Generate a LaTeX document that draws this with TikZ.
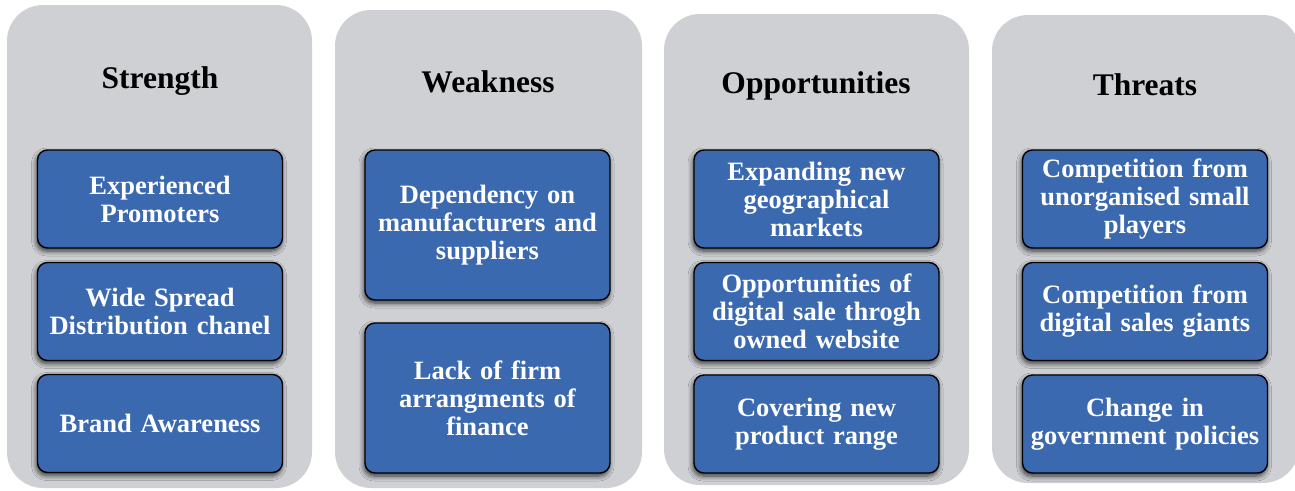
\documentclass[tikz,border=0pt]{standalone}
\usepackage{fontspec}
\setmainfont{Liberation Serif}
\usetikzlibrary{shadows.blur}
\definecolor{panelgray}{HTML}{CFD0D4}
\definecolor{boxblue}{HTML}{3B69B0}
\tikzset{
  panel/.style={fill=panelgray, draw=none, rounded corners=36pt},
  ptitle/.style={anchor=base, font=\fontsize{31.5}{34}\selectfont\bfseries, text=black, inner sep=0pt},
  item/.style={draw=black, line width=1.4pt, fill=boxblue, rounded corners=10pt,
    minimum width=245pt, text width=237pt, align=center, inner sep=0pt,
    font=\fontsize{26.5}{28}\selectfont\bfseries, text=white,
    blur shadow={shadow xshift=-1pt, shadow yshift=-3pt, shadow blur radius=5pt, shadow opacity=75, shadow blur steps=6}},
  tall/.style={minimum height=98pt},
  taller/.style={minimum height=150pt}
}
\begin{document}
\begin{tikzpicture}[x=1pt,y=-1pt]
\useasboundingbox (0,0) rectangle (1295,490);
\begin{scope}
\clip (0,0) rectangle (1295,490);
% panels
\path[panel] (7,5) rectangle (312,488);
\path[panel] (335,10) rectangle (642,488);
\path[panel] (664,14) rectangle (969,485);
\path[panel] (992,15) rectangle (1299,483);
\end{scope}
% titles
\node[ptitle] (tS) at (160,88) {Strength};
\node[ptitle] (tW) at (488,92) {Weakness};
\node[ptitle] (tO) at (816,93) {Opportunities};
\node[ptitle] (tT) at (1145,95) {Threats};
% Strength
\node[item,tall] (s1) at (160,199) {Experienced\\Promoters};
\node[item,tall] (s2) at (160,311.5) {Wide Spread\\Distribution chanel};
\node[item,tall] (s3) at (160,423.5) {Brand Awareness};
% Weakness
\node[item,taller] (w1) at (487.5,225) {Dependency on\\manufacturers and\\suppliers};
\node[item,taller] (w2) at (487.5,398) {Lack of firm\\arrangments of\\finance};
% Opportunities
\node[item,tall] (o1) at (816.5,199) {Expanding new\\geographical\\markets};
\node[item,tall] (o2) at (816.5,311.5) {Opportunities of\\digital sale throgh\\owned website};
\node[item,tall] (o3) at (816.5,424) {Covering new\\product range};
% Threats
\node[item,tall] (h1) at (1145,199) {Competition from\\unorganised small\\players};
\node[item,tall] (h2) at (1145,311.5) {Competition from\\digital sales giants};
\node[item,tall] (h3) at (1145,424) {Change in\\government policies};
\end{tikzpicture}
\end{document}
